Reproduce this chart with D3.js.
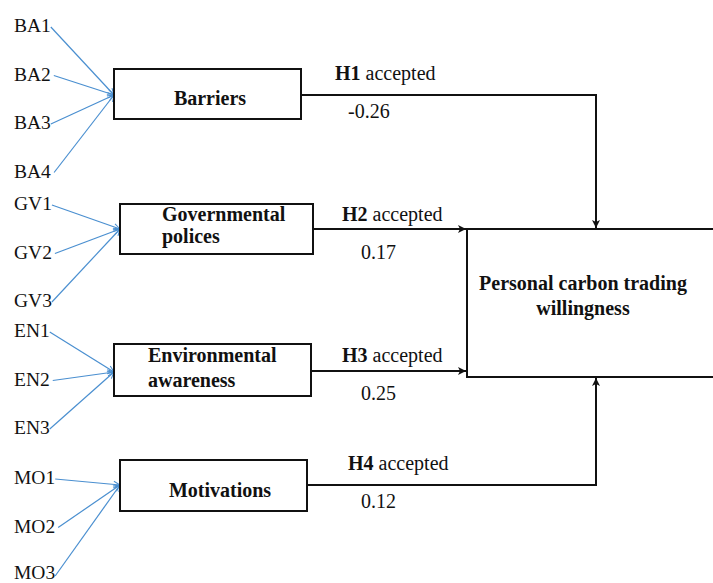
<!DOCTYPE html>
<html>
<head>
<meta charset="utf-8">
<script src="https://cdn.jsdelivr.net/npm/d3@7"></script>
<style>
  body { margin: 0; background: #fff; }
  svg text { font-family: "Times New Roman", "Liberation Serif", Times, serif; fill: #111; }
</style>
</head>
<body>
<script>
// data
var constructs = [["Barriers"], ["Governmental", "polices"], ["Environmental", "awareness"], ["Motivations"]];
var indicators = [
  ["BA1", "BA2", "BA3", "BA4"],
  ["GV1", "GV2", "GV3"],
  ["EN1", "EN2", "EN3"],
  ["MO1", "MO2", "MO3"]
];
var hypotheses = ["H1", "H2", "H3", "H4"];
var hypStatus = ["accepted", "accepted", "accepted", "accepted"];
var coefficients = ["-0.26", "0.17", "0.25", "0.12"];
var outcome = ["Personal carbon trading", "willingness"];

var width = 713, height = 583;

var svg = d3.select("body")
  .append("svg")
    .attr("width", width)
    .attr("height", height);

var defs = svg.append("defs");
defs.append("marker")
    .attr("id", "blk")
    .attr("viewBox", "0 0 10 10")
    .attr("refX", 9).attr("refY", 5)
    .attr("markerWidth", 10).attr("markerHeight", 10)
    .attr("markerUnits", "userSpaceOnUse")
    .attr("orient", "auto")
  .append("path")
    .attr("d", "M1,1 L9,5 L1,9 L3,5 Z")
    .attr("fill", "#111");
defs.append("marker")
    .attr("id", "blu")
    .attr("viewBox", "0 0 10 10")
    .attr("refX", 9).attr("refY", 5)
    .attr("markerWidth", 8).attr("markerHeight", 8)
    .attr("markerUnits", "userSpaceOnUse")
    .attr("orient", "auto")
  .append("path")
    .attr("d", "M1,1 L9,5 L1,9")
    .attr("fill", "none")
    .attr("stroke", "#4a8fd0")
    .attr("stroke-width", 1.3);

// layout of the construct boxes (left, top, right, bottom)
var boxes = [
  {x0: 114, y0: 69, x1: 301, y1: 119},
  {x0: 120, y0: 204, x1: 313, y1: 254},
  {x0: 114, y0: 344, x1: 311, y1: 396},
  {x0: 120, y0: 460, x1: 307, y1: 511}
];
var inY = [95, 229, 372, 485];           // where indicator arrows hit the box
var outY = [95, 229, 371, 485];          // where the hypothesis path leaves
var groupStart = [32, 210, 337, 484];     // baseline of first indicator
var step = 48.5;
var target = {x0: 467, y0: 229, x1: 716, y1: 377};

// indicator y scale per group
var yInd = d3.scaleLinear().domain([0, 1]).range([0, step]);

// indicators and blue arrows
indicators.forEach(function(list, g) {
  var grp = svg.append("g");
  var labels = grp.selectAll("text")
    .data(list)
    .enter()
    .append("text")
      .attr("x", 14)
      .attr("y", function(d, i) { return Math.min(groupStart[g] + yInd(i), 579); })
      .style("font-size", "19.5px")
      .text(function(d) { return d; });
  labels.each(function(d, i) {
    var bb = this.getBBox();
    grp.append("line")
      .attr("x1", bb.x + bb.width + (i % 2 ? 3 : 0))
      .attr("y1", groupStart[g] + yInd(i) - 5)
      .attr("x2", boxes[g].x0)
      .attr("y2", inY[g])
      .attr("stroke", "#4a8fd0")
      .attr("stroke-width", 1.2)
      .attr("marker-end", "url(#blu)");
  });
});

// construct boxes
svg.selectAll("rect.construct")
  .data(boxes)
  .enter()
  .append("rect")
    .attr("class", "construct")
    .attr("x", function(d) { return d.x0; })
    .attr("y", function(d) { return d.y0; })
    .attr("width", function(d) { return d.x1 - d.x0; })
    .attr("height", function(d) { return d.y1 - d.y0; })
    .attr("fill", "#fff")
    .attr("stroke", "#111")
    .attr("stroke-width", 2);

// construct labels
var labelPos = [
  {x: 210, y: 105, anchor: "middle", gap: 0},
  {x: 162, y: 221, anchor: "start", gap: 22},
  {x: 148, y: 362, anchor: "start", gap: 25},
  {x: 220, y: 497, anchor: "middle", gap: 0}
];
constructs.forEach(function(lines, g) {
  svg.append("text")
    .attr("x", labelPos[g].x)
    .attr("y", labelPos[g].y)
    .attr("text-anchor", labelPos[g].anchor)
    .style("font-size", "20px")
    .style("font-weight", "bold")
    .selectAll("tspan")
    .data(lines)
    .enter()
    .append("tspan")
      .attr("x", labelPos[g].x)
      .attr("dy", function(d, i) { return i ? labelPos[g].gap : 0; })
      .text(function(d) { return d; });
});

// outcome box
svg.append("rect")
  .attr("x", target.x0)
  .attr("y", target.y0)
  .attr("width", target.x1 - target.x0)
  .attr("height", target.y1 - target.y0)
  .attr("fill", "none")
  .attr("stroke", "#111")
  .attr("stroke-width", 2);
svg.append("text")
  .attr("text-anchor", "middle")
  .style("font-size", "20px")
  .style("font-weight", "bold")
  .selectAll("tspan")
  .data(outcome)
  .enter()
  .append("tspan")
    .attr("x", 583)
    .attr("y", function(d, i) { return 290 + i * 25; })
    .text(function(d) { return d; });

// hypothesis paths
var elbowX = 596;
var paths = [
  [[boxes[0].x1, outY[0]], [elbowX, outY[0]], [elbowX, target.y0 - 1]],
  [[boxes[1].x1, outY[1]], [target.x0 - 1, outY[1]]],
  [[boxes[2].x1, outY[2]], [target.x0 - 1, outY[2]]],
  [[boxes[3].x1, outY[3]], [elbowX, outY[3]], [elbowX, target.y1 + 1]]
];
var line = d3.line();
svg.selectAll("path.hyp")
  .data(paths)
  .enter()
  .append("path")
    .attr("class", "hyp")
    .attr("d", function(d) { return line(d); })
    .attr("fill", "none")
    .attr("stroke", "#111")
    .attr("stroke-width", 2)
    .attr("marker-end", "url(#blk)");

// hypothesis labels
var hypPos = [
  {x: 335, y: 80, cx: 348, cy: 118},
  {x: 342, y: 221, cx: 361, cy: 259},
  {x: 342, y: 362, cx: 361, cy: 400},
  {x: 348, y: 470, cx: 361, cy: 508}
];
hypotheses.forEach(function(h, i) {
  var t = svg.append("text")
    .attr("x", hypPos[i].x)
    .attr("y", hypPos[i].y)
    .style("font-size", "20px");
  t.append("tspan").style("font-weight", "bold").text(h);
  t.append("tspan").text(" " + hypStatus[i]);
  svg.append("text")
    .attr("x", hypPos[i].cx)
    .attr("y", hypPos[i].cy)
    .style("font-size", "20px")
    .text(coefficients[i]);
});
</script>
</body>
</html>
